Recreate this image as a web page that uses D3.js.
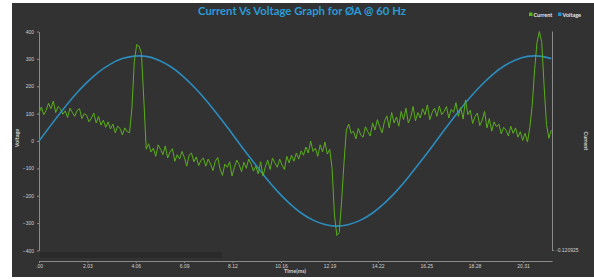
<!DOCTYPE html>
<html>
<head>
<meta charset="utf-8">
<script src="https://cdn.jsdelivr.net/npm/d3@7"></script>
<style>
  body { margin: 0; background: #fff; }
  svg { display: block; }
</style>
</head>
<body>
<script>
// sample step of the current trace, ms
let sampleStep = 0.1;

// current samples, one every 0.1 ms from 0 to 21.5 ms
let currentValues = [
  102, 124, 96, 112, 138, 118, 146, 104, 126, 118,
  98, 110, 86, 120, 104, 90, 112, 118, 82, 100,
  94, 70, 84, 102, 66, 90, 58, 76, 50, 70,
  44, 62, 30, 54, 46, 22, 48, 34, 30, 120,
  290, 352, 346, 320, 150, -30, -10, -40, -26, -56,
  -14, -30, -50, -18, -62, -40, -28, -74, -50, -66,
  -38, -60, -92, -52, -44, -76, -58, -90, -70, -62,
  -92, -66, -84, -108, -74, -60, -102, -126, -84, -96,
  -76, -128, -96, -70, -86, -112, -78, -100, -66, -84,
  -110, -92, -120, -76, -128, -94, -70, -104, -62, -80,
  -96, -66, -88, -104, -56, -80, -52, -74, -44, -66,
  -36, -52, -22, -44, 0, -38, -26, -56, -14, -40,
  -4, -48, -30, -100, -270, -345, -335, -220, -80, 40,
  62, 28, 36, 8, 46, 22, 14, 52, 34, 18,
  66, 40, 78, 52, 30, 72, 92, 48, 104, 66,
  88, 54, 108, 78, 120, 66, 86, 126, 74, 104,
  84, 118, 96, 132, 78, 104, 120, 90, 128, 96,
  108, 126, 84, 116, 104, 140, 90, 122, 80, 150,
  96, 112, 64, 90, 102, 56, 76, 108, 48, 82,
  36, 70, 52, 62, 26, 50, 40, 18, 54, 28,
  48, 14, 34, 2, 28, -4, 50, 130, 260, 360,
  400, 360, 200, 60, 10, 40
];

// voltage read every 0.5 ms
let voltageTimes = [0, 0.5, 1, 1.5, 2, 2.5, 3, 3.5, 4, 4.5, 5, 5.5, 6, 6.5, 7, 7.5, 8, 8.5, 9, 9.5, 10,
  10.5, 11, 11.5, 12, 12.5, 13, 13.5, 14, 14.5, 15, 15.5, 16, 16.5, 17, 17.5, 18, 18.5, 19, 19.5, 20, 20.5, 21, 21.5];
let voltageValues = [0, 58, 114, 167, 213, 252, 281, 301, 310, 309, 296, 273, 240, 198, 150, 96, 39, -20, -77, -132, -183,
  -227, -263, -289, -305, -311, -305, -289, -263, -227, -183, -132, -77, -20, 39, 96, 150, 198, 240, 273, 296, 309, 310, 301];

let xTicks = [0, 2.03, 4.06, 6.09, 8.12, 10.16, 12.19, 14.22, 16.25, 18.28, 20.31];
let xTickLabels = ['.00', '2.03', '4.06', '6.09', '8.12', '10.16', '12.19', '14.22', '16.25', '18.28', '20.31'];
let yTicks = [400, 300, 200, 100, 0, -100, -200, -300, -400];
let rightTickLabel = '-0.120925';

let width = 594;
let height = 280;

let svg = d3.select('body').append('svg')
    .attr('width', width)
    .attr('height', height)
    .style('font-family', 'Lato, "Open Sans", sans-serif');

// dark chart panel
svg.append('rect')
    .attr('x', 12).attr('y', 3)
    .attr('width', 582).attr('height', 274)
    .attr('fill', '#323232');

let x = d3.scaleLinear().domain([0, 21.53]).range([39, 552]);
let y = d3.scaleLinear().domain([-400, 400]).range([250.5, 31.5]);

// title
svg.append('text')
    .attr('x', 302).attr('y', 15)
    .attr('text-anchor', 'middle')
    .attr('fill', '#2b9bd6')
    .attr('font-size', 11.5)
    .attr('font-weight', 'bold')
    .attr('textLength', 208)
    .attr('lengthAdjust', 'spacingAndGlyphs')
    .text('Current Vs Voltage Graph for ØA @ 60 Hz');

// legend
let legend = [{name: 'Current', color: '#5db31c', x: 529}, {name: 'Voltage', color: '#2a8fc2', x: 558}];
let lg = svg.selectAll('.legend')
    .data(legend)
    .join('g')
    .attr('class', 'legend')
    .attr('transform', d => `translate(${d.x},15)`);
lg.append('rect')
    .attr('x', 0).attr('y', -2.5)
    .attr('width', 3.5).attr('height', 3.5)
    .attr('fill', d => d.color);
lg.append('text')
    .attr('x', 4.5).attr('y', 1.5)
    .attr('fill', '#e8e8e8')
    .attr('font-size', 5.5)
    .attr('font-weight', 'bold')
    .text(d => d.name);

// scrollbar strip under the plot
svg.append('rect')
    .attr('x', 40).attr('y', 252)
    .attr('width', 182).attr('height', 6)
    .attr('fill', '#2a2a2a');

// left axis
let yAxis = svg.append('g')
    .attr('transform', 'translate(39,0)')
    .call(d3.axisLeft(y).tickValues(yTicks).tickSize(2).tickSizeOuter(0).tickPadding(3));
yAxis.select('.domain').attr('stroke', '#8a8a8a');
yAxis.selectAll('line').attr('stroke', '#8a8a8a');
yAxis.selectAll('text').attr('fill', '#d0d0d0').attr('font-size', 5);

// bottom axis
let xAxis = svg.append('g')
    .attr('transform', 'translate(0,261)')
    .call(d3.axisBottom(x).tickValues(xTicks).tickFormat((d, i) => xTickLabels[i]).tickSize(2).tickSizeOuter(0).tickPadding(1));
xAxis.select('.domain').attr('stroke', '#8a8a8a');
xAxis.selectAll('line').attr('stroke', '#8a8a8a');
xAxis.selectAll('text').attr('fill', '#d0d0d0').attr('font-size', 5);

// right axis (current)
let yRight = d3.scaleLinear().domain([0, 1]).range([250, 31]);
let rAxis = svg.append('g')
    .attr('transform', 'translate(552,0)')
    .call(d3.axisRight(yRight).tickValues([0]).tickFormat(() => rightTickLabel).tickSize(2).tickSizeOuter(0).tickPadding(2));
rAxis.select('.domain').attr('stroke', '#8a8a8a');
rAxis.selectAll('line').attr('stroke', '#8a8a8a');
rAxis.selectAll('text').attr('fill', '#d0d0d0').attr('font-size', 5);

// axis titles
svg.append('text')
    .attr('transform', 'translate(19,138) rotate(-90)')
    .attr('text-anchor', 'middle')
    .attr('fill', '#d0d0d0')
    .attr('font-size', 5.5)
    .attr('font-weight', 'bold')
    .text('Voltage');
svg.append('text')
    .attr('transform', 'translate(584,141) rotate(90)')
    .attr('text-anchor', 'middle')
    .attr('fill', '#d0d0d0')
    .attr('font-size', 5.5)
    .attr('font-weight', 'bold')
    .text('Current');
svg.append('text')
    .attr('x', 295).attr('y', 273)
    .attr('text-anchor', 'middle')
    .attr('fill', '#d0d0d0')
    .attr('font-size', 5.5)
    .attr('font-weight', 'bold')
    .text('Time(ms)');

// voltage
let voltageLine = d3.line()
    .x((d, i) => x(voltageTimes[i]))
    .y(d => y(d))
    .curve(d3.curveNatural);
svg.append('path')
    .datum(voltageValues)
    .attr('d', voltageLine)
    .attr('fill', 'none')
    .attr('stroke', '#2b8cbd')
    .attr('stroke-width', 1.6);

// current
let currentLine = d3.line()
    .x((d, i) => x(i * sampleStep))
    .y(d => y(d));
svg.append('path')
    .datum(currentValues)
    .attr('d', currentLine)
    .attr('fill', 'none')
    .attr('stroke', '#5aae1b')
    .attr('stroke-width', 1);
</script>
</body>
</html>
